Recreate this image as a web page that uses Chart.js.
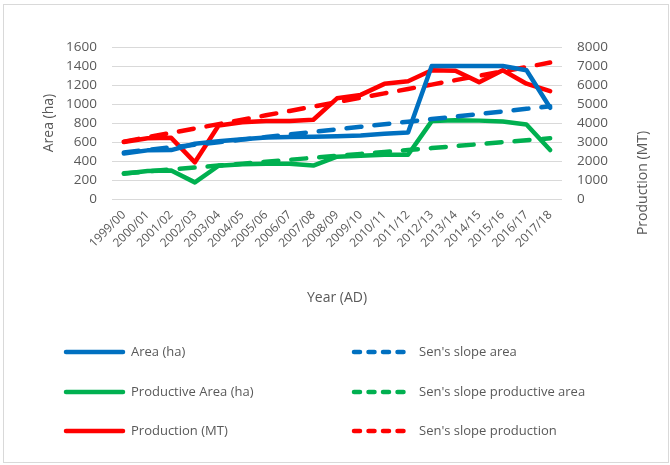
<!DOCTYPE html>
<html>
<head>
<meta charset="utf-8">
<script src="https://cdn.jsdelivr.net/npm/chart.js@4.4.1/dist/chart.umd.min.js"></script>
<style>
  html, body { margin: 0; padding: 0; background: #fff; }
  #wrap { width: 670px; height: 465px; position: relative; }
</style>
</head>
<body>
<div id="wrap"><canvas id="chart"></canvas></div>
<script>
"use strict";

const years = ["1999/00", "2000/01", "2001/02", "2002/03", "2003/04", "2004/05", "2005/06",
	"2006/07", "2007/08", "2008/09", "2009/10", "2010/11", "2011/12", "2012/13", "2013/14",
	"2014/15", "2015/16", "2016/17", "2017/18"];

const area = [480, 512, 515, 582, 608, 630, 648, 652, 655, 660, 668, 686, 700, 1400, 1400, 1400, 1400, 1355, 960];
const productiveArea = [265, 295, 300, 175, 350, 365, 370, 370, 352, 445, 455, 465, 465, 820, 830, 825, 815, 785, 515];
const production = [3000, 3200, 3220, 1930, 3870, 4040, 4100, 4100, 4170, 5300, 5480, 6060, 6200, 6780, 6750, 6150, 6780, 6070, 5680];

const senArea = [490, 517, 544, 571, 598, 625, 652, 679, 706, 733, 760, 787, 814, 841, 868, 895, 922, 949, 976];
const senProductive = [270, 290, 311, 331, 352, 372, 393, 413, 434, 454, 475, 495, 516, 536, 557, 577, 598, 618, 639];
const senProduction = [3020, 3250, 3480, 3710, 3940, 4175, 4405, 4635, 4865, 5100, 5330, 5560, 5790, 6020, 6255, 6485, 6715, 6945, 7180];

const areaTicks = { min: 0, max: 1600, step: 200 };
const productionTicks = { min: 0, max: 8000, step: 1000 };

const BLUE = "#0070C0";
const GREEN = "#00B050";
const RED = "#FF0000";
const TEXT = "#595959";
const GRID = "#D9D9D9";
const FONT = "'Open Sans', sans-serif";

function solid(label, data, color, axis) {
	return {
		label: label, data: data, yAxisID: axis,
		borderColor: color, backgroundColor: color,
		borderWidth: 4.5, pointRadius: 0, tension: 0,
		borderCapStyle: "round", borderJoinStyle: "round",
		fill: false
	};
}

function dashed(label, data, color, axis) {
	const ds = solid(label, data, color, axis);
	ds.borderDash = [15, 13];
	return ds;
}

// legend drawn in two columns below the axis, like the Excel original
const customLegend = {
	id: "customLegend",
	beforeDraw(chart) {
		const c = chart.ctx;
		c.save();
		c.fillStyle = "#fff";
		c.fillRect(0, 0, chart.width, chart.height);
		c.strokeStyle = GRID;
		c.lineWidth = 1;
		c.strokeRect(3.5, 4.5, 665, 458);
		c.restore();
	},
	afterDraw(chart) {
		const c = chart.ctx;
		const cols = [64, 352];
		const rows = [352, 392, 431];
		c.save();
		chart.data.datasets.forEach((ds, i) => {
			const x = cols[i % 2];
			const y = rows[Math.floor(i / 2)];
			c.beginPath();
			c.strokeStyle = ds.borderColor;
			c.lineWidth = 4.5;
			c.lineCap = "round";
			c.setLineDash(ds.borderDash ? [6, 8.5] : []);
			c.moveTo(x + 2, y);
			c.lineTo(x + 59, y);
			c.stroke();
			c.setLineDash([]);
			c.fillStyle = TEXT;
			c.font = "13px " + FONT;
			c.textBaseline = "middle";
			c.textAlign = "left";
			c.fillText(ds.label, x + 67, y);
		});
		// right axis title, sits lower than the plot centre in the original
		c.translate(643, 183);
		c.rotate(-Math.PI / 2);
		c.font = "14px " + FONT;
		c.textAlign = "center";
		c.textBaseline = "middle";
		c.fillText("Production (MT)", 0, 0);
		c.restore();
	}
};

const plainNumber = (value) => String(value);

const ctx = document.getElementById("chart").getContext("2d");

new Chart(ctx, {
	type: "line",
	data: {
		labels: years,
		datasets: [
			solid("Area (ha)", area, BLUE, "y"),
			dashed("Sen's slope area", senArea, BLUE, "y"),
			solid("Productive Area (ha)", productiveArea, GREEN, "y"),
			dashed("Sen's slope productive area", senProductive, GREEN, "y"),
			solid("Production (MT)", production, RED, "y1"),
			dashed("Sen's slope production", senProduction, RED, "y1")
		]
	},
	options: {
		responsive: true,
		maintainAspectRatio: false,
		animation: false,
		layout: { padding: { left: 41, right: 8, top: 47, bottom: 159 } },
		plugins: {
			legend: { display: false },
			tooltip: { enabled: false }
		},
		scales: {
			x: {
				offset: true,
				grid: { display: false },
				border: { display: false },
				ticks: {
					color: TEXT, font: { family: FONT, size: 12 },
					minRotation: 45, maxRotation: 45, autoSkip: false, padding: 1
				},
				title: {
					display: true, text: "Year (AD)", color: TEXT,
					font: { family: FONT, size: 14 }, padding: 0
				},
				afterFit(scale) { scale.height = 107; }
			},
			y: {
				position: "left",
				min: areaTicks.min, max: areaTicks.max,
				ticks: {
					stepSize: areaTicks.step, color: TEXT, font: { family: FONT, size: 13.5 },
					padding: 15, autoSkip: false, callback: plainNumber
				},
				grid: { color: GRID, lineWidth: 1, drawTicks: false },
				border: { display: false },
				title: {
					display: true, text: "Area (ha)", color: TEXT,
					font: { family: FONT, size: 14 }, padding: 0
				},
				afterFit(scale) { scale.width = 71; }
			},
			y1: {
				position: "right",
				min: productionTicks.min, max: productionTicks.max,
				ticks: {
					stepSize: productionTicks.step, color: TEXT, font: { family: FONT, size: 13.5 },
					padding: 15, autoSkip: false, callback: plainNumber
				},
				grid: { drawOnChartArea: false, drawTicks: false },
				border: { display: false },
				afterFit(scale) { scale.width = 100; }
			}
		}
	},
	plugins: [customLegend]
});
</script>
</body>
</html>
